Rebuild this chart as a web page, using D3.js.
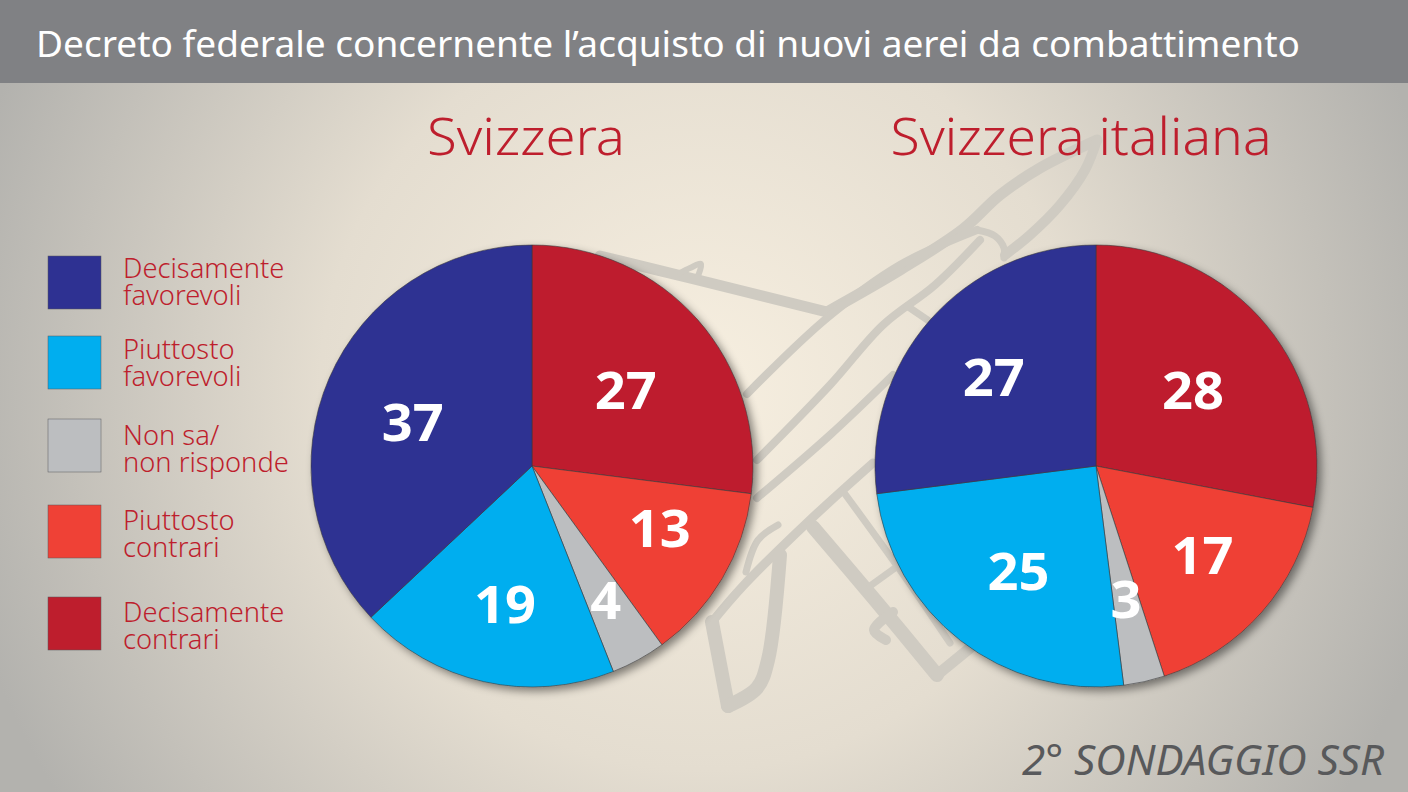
<!DOCTYPE html>
<html>
<head>
<meta charset="utf-8">
<script src="https://cdn.jsdelivr.net/npm/d3@7"></script>
<style>
  html, body { margin: 0; padding: 0; background: #e0dace; }
  svg { display: block; font-family: "Noto Sans", sans-serif; }
</style>
</head>
<body>
<div id="chart"></div>
<script>
const width = 1408;
const height = 792;

// Data
const title = "Decreto federale concernente l’acquisto di nuovi aerei da combattimento";
const footer = "2° SONDAGGIO SSR";
const categories = ["Decisamente contrari", "Piuttosto contrari", "Non sa/ non risponde", "Piuttosto favorevoli", "Decisamente favorevoli"];
const colors = ["#be1e2d", "#ef4136", "#bcbec0", "#00aeef", "#2e3192"];
const svizzera = [27, 13, 4, 19, 37];
const svizzeraItaliana = [28, 17, 3, 25, 27];

// Legend reads bottom to top compared with the pie order
const legendLines = [
  ["Decisamente", "favorevoli"],
  ["Piuttosto", "favorevoli"],
  ["Non sa/", "non risponde"],
  ["Piuttosto", "contrari"],
  ["Decisamente", "contrari"]
];
const legendOrder = [4, 3, 2, 1, 0];
const legendTops = [256, 336, 419, 505, 597];
const legendTextY = [22, 23, 26, 25, 25];

// how far out from the centre each number sits, per slice, plus a small hand nudge
const labelRadiusCH = [125, 145, 153, 142, 130];
const labelRadiusTI = [122, 138, 137, 128, 135];
const labelNudgeCH = [[0, 7], [3, -12], [0, 0], [4, 0], [0, 8]];
const labelNudgeTI = [[3, 2], [3, -2], [0, 0], [1, 4], [-1, 1]];

const svg = d3.select("#chart").append("svg")
  .attr("width", width)
  .attr("height", height);

const defs = svg.append("defs");

const bg = defs.append("radialGradient")
  .attr("id", "bg")
  .attr("gradientUnits", "userSpaceOnUse")
  .attr("cx", 700).attr("cy", 390).attr("r", 760);
bg.append("stop").attr("offset", "0%").attr("stop-color", "#f7efe0");
bg.append("stop").attr("offset", "50%").attr("stop-color", "#e4ddd0");
bg.append("stop").attr("offset", "100%").attr("stop-color", "#b3b2ae");

const shadow = defs.append("filter")
  .attr("id", "shadow")
  .attr("x", "-10%").attr("y", "-10%")
  .attr("width", "125%").attr("height", "125%");
shadow.append("feDropShadow")
  .attr("dx", 4).attr("dy", 4)
  .attr("stdDeviation", 4)
  .attr("flood-color", "#000")
  .attr("flood-opacity", 0.45);

svg.append("rect").attr("width", width).attr("height", height).attr("fill", "url(#bg)");

// Plane in the background, only decoration
const planeLine = d3.line().curve(d3.curveCatmullRom.alpha(0.5));
const planeStrokes = [
  { w: 11, pts: [[600, 256], [690, 278], [827, 312]] },
  { w: 6, pts: [[680, 273], [690, 268], [701, 264], [698, 276]] },
  { w: 11, pts: [[827, 312], [900, 270], [963, 229], [1000, 195], [1040, 168], [1097, 140]] },
  { w: 10, pts: [[1097, 140], [1085, 170], [1060, 205], [1030, 235], [1005, 255]] },
  { w: 8, pts: [[747, 394], [827, 318], [900, 265], [977, 230]] },
  { w: 7, pts: [[977, 230], [995, 236], [1004, 248], [1004, 258]] },
  { w: 8, pts: [[757, 460], [830, 385], [883, 325], [935, 285], [980, 240]] },
  { w: 7, pts: [[907, 306], [932, 323]] },
  { w: 8, pts: [[757, 498], [830, 435], [893, 375]] },
  { w: 9, pts: [[873, 463], [810, 520], [743, 586], [712, 622]] },
  { w: 14, pts: [[712, 622], [728, 706]] },
  { w: 14, pts: [[728, 706], [757, 688], [768, 660], [780, 555]] },
  { w: 7, pts: [[746, 572], [758, 540], [778, 525]] },
  { w: 14, pts: [[813, 527], [875, 600], [937, 675]] },
  { w: 11, pts: [[937, 675], [970, 648]] },
  { w: 7, pts: [[845, 494], [900, 570], [950, 643]] },
  { w: 7, pts: [[870, 586], [895, 568]] },
  { w: 10, pts: [[893, 612], [874, 630], [886, 640]] }
];

svg.append("g")
  .selectAll("path")
  .data(planeStrokes)
  .join("path")
  .attr("d", d => planeLine(d.pts))
  .attr("fill", "none")
  .attr("stroke", "#cfcbc2")
  .attr("stroke-width", d => d.w)
  .attr("stroke-linecap", "round")
  .attr("stroke-linejoin", "round");

// Header
svg.append("rect").attr("width", width).attr("height", 83).attr("fill", "#808184");
svg.append("text")
  .attr("x", 36).attr("y", 57)
  .attr("font-size", 37)
  .attr("fill", "#fff")
  .attr("textLength", 1264)
  .attr("lengthAdjust", "spacingAndGlyphs")
  .text(title);

// Pies
const pie = d3.pie().sort(null).value(d => d);
const radius = 221;
const arc = d3.arc().innerRadius(0).outerRadius(radius);

function drawPie(name, values, labelRadius, labelNudge, cx, titleX, titleWidth) {
  svg.append("text")
    .attr("x", titleX).attr("y", 155)
    .attr("text-anchor", "middle")
    .attr("font-size", 52)
    .attr("font-weight", 300)
    .attr("fill", "#be1e2d")
    .attr("textLength", titleWidth)
    .attr("lengthAdjust", "spacingAndGlyphs")
    .text(name);

  const g = svg.append("g").attr("transform", `translate(${cx},466)`);
  const arcs = pie(values);

  g.append("g")
    .attr("filter", "url(#shadow)")
    .selectAll("path")
    .data(arcs)
    .join("path")
    .attr("d", arc)
    .attr("fill", (d, i) => colors[i])
    .attr("stroke", "#3a3a3c")
    .attr("stroke-width", 0.6);

  g.append("g")
    .selectAll("text")
    .data(arcs)
    .join("text")
    .attr("transform", (d, i) => {
      const c = d3.arc().innerRadius(labelRadius[i]).outerRadius(labelRadius[i]).centroid(d);
      return `translate(${c[0] + labelNudge[i][0]},${c[1] + labelNudge[i][1]})`;
    })
    .attr("text-anchor", "middle")
    .attr("dy", "0.36em")
    .attr("font-size", 52)
    .attr("font-weight", 700)
    .attr("fill", "#fff")
    .attr("textLength", d => String(d.data).length * 31)
    .attr("lengthAdjust", "spacingAndGlyphs")
    .text(d => d.data);
}

drawPie("Svizzera", svizzera, labelRadiusCH, labelNudgeCH, 532, 526, 198);
drawPie("Svizzera italiana", svizzeraItaliana, labelRadiusTI, labelNudgeTI, 1096, 1081, 381);

// Legend
const legend = svg.append("g")
  .selectAll("g")
  .data(legendOrder)
  .join("g")
  .attr("transform", (d, i) => `translate(48,${legendTops[i]})`);

legend.append("rect")
  .attr("width", 53).attr("height", 53)
  .attr("fill", d => colors[d])
  .attr("stroke", "#58595b")
  .attr("stroke-width", 0.5);

legend.each(function(d, i) {
  d3.select(this).selectAll("text")
    .data(legendLines[i])
    .join("text")
    .attr("x", 75)
    .attr("y", (l, j) => legendTextY[i] + j * 27)
    .attr("font-size", 27.3)
    .attr("font-weight", 300)
    .attr("fill", "#be1e2d")
    .text(l => l);
});

// Footer
svg.append("text")
  .attr("x", 1384).attr("y", 775)
  .attr("text-anchor", "end")
  .attr("font-size", 42)
  .attr("font-style", "italic")
  .attr("fill", "#58595b")
  .attr("textLength", 362)
  .attr("lengthAdjust", "spacingAndGlyphs")
  .text(footer);
</script>
</body>
</html>
